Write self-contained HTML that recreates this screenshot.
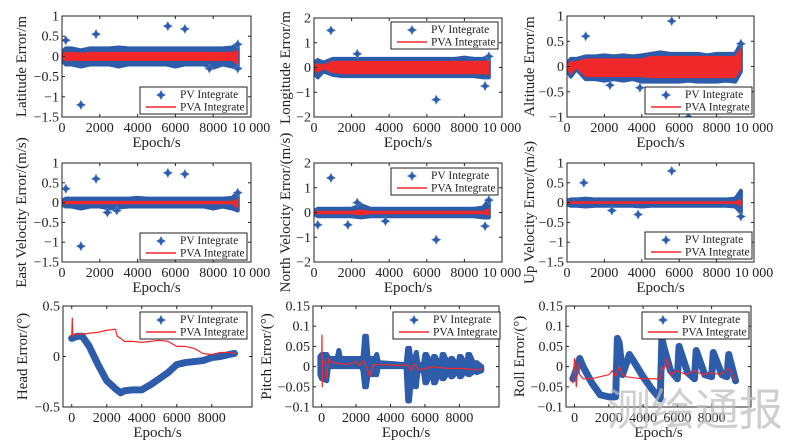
<!DOCTYPE html>
<html><head><meta charset="utf-8"><style>
html,body{margin:0;padding:0;background:#fff;}
svg{display:block;font-family:"Liberation Serif",serif;}
</style></head><body>
<svg id="c" width="791" height="448" viewBox="0 0 791 448"></svg>
<script>
// ---------- data ----------
const epochsA = [0,200,500,1000,1500,2000,2500,3000,3500,4000,4500,5000,5500,6000,6500,7000,7500,8000,8500,9000,9300];
const latPvUp  = [0.1,0.2,0.2,0.15,0.2,0.2,0.2,0.22,0.2,0.2,0.2,0.2,0.2,0.2,0.2,0.2,0.2,0.2,0.2,0.22,0.3];
const latPvLo  = [-0.1,-0.2,-0.2,-0.25,-0.2,-0.2,-0.2,-0.25,-0.2,-0.2,-0.2,-0.2,-0.2,-0.25,-0.2,-0.2,-0.2,-0.28,-0.2,-0.25,-0.3];
const latPvaUp = [0.05,0.1,0.1,0.08,0.1,0.1,0.1,0.1,0.1,0.1,0.1,0.1,0.1,0.1,0.1,0.1,0.1,0.1,0.1,0.1,0.15];
const latPvaLo = [-0.05,-0.1,-0.1,-0.1,-0.1,-0.1,-0.1,-0.1,-0.1,-0.1,-0.1,-0.1,-0.1,-0.1,-0.1,-0.1,-0.1,-0.1,-0.1,-0.1,-0.2];
const latOutX = [200,1000,1800,5600,6500,7800,9300,9300];
const latOutY = [0.4,-1.2,0.55,0.75,0.68,-0.3,0.3,-0.3];

const lonPvUp  = [0.2,0.3,0.2,0.35,0.35,0.35,0.35,0.35,0.35,0.35,0.35,0.35,0.35,0.35,0.35,0.35,0.35,0.4,0.35,0.35,0.45];
const lonPvLo  = [-0.2,-0.4,-0.15,-0.3,-0.35,-0.35,-0.35,-0.35,-0.35,-0.35,-0.35,-0.35,-0.35,-0.35,-0.35,-0.35,-0.35,-0.35,-0.35,-0.4,-0.4];
const lonPvaUp = [0.1,0.15,0.1,0.25,0.25,0.25,0.25,0.25,0.25,0.25,0.25,0.25,0.25,0.25,0.25,0.25,0.25,0.25,0.25,0.25,0.3];
const lonPvaLo = [-0.1,-0.2,-0.05,-0.2,-0.25,-0.25,-0.25,-0.25,-0.25,-0.25,-0.25,-0.25,-0.25,-0.25,-0.25,-0.25,-0.25,-0.25,-0.25,-0.25,-0.3];
const lonOutX = [900,2300,6500,9100,9300];
const lonOutY = [1.5,0.55,-1.3,-0.75,0.45];

const altPvUp  = [0.05,0.15,0.15,0.2,0.2,0.22,0.2,0.22,0.2,0.22,0.25,0.28,0.25,0.25,0.25,0.25,0.22,0.25,0.25,0.25,0.45];
const altPvLo  = [-0.05,-0.2,-0.05,-0.25,-0.25,-0.28,-0.25,-0.28,-0.25,-0.3,-0.3,-0.3,-0.3,-0.3,-0.28,-0.3,-0.3,-0.3,-0.28,-0.3,-0.1];
const altPvaUp = [0.03,0.1,0.1,0.15,0.15,0.15,0.15,0.15,0.15,0.15,0.2,0.2,0.2,0.2,0.2,0.2,0.2,0.2,0.2,0.2,0.35];
const altPvaLo = [-0.03,-0.15,-0.03,-0.2,-0.2,-0.2,-0.2,-0.2,-0.2,-0.2,-0.22,-0.22,-0.22,-0.22,-0.22,-0.22,-0.22,-0.22,-0.22,-0.22,-0.05];
const altOutX = [1000,5600,6500,2300,3900,9300];
const altOutY = [0.6,0.9,-1.0,-0.37,-0.42,0.45];

const eastPvUp  = [0.05,0.1,0.1,0.1,0.1,0.1,0.1,0.1,0.1,0.12,0.1,0.1,0.1,0.1,0.1,0.1,0.1,0.1,0.1,0.12,0.25];
const eastPvLo  = [-0.05,-0.1,-0.1,-0.15,-0.1,-0.1,-0.15,-0.12,-0.1,-0.1,-0.1,-0.1,-0.1,-0.1,-0.1,-0.1,-0.1,-0.15,-0.1,-0.15,-0.2];
const eastPvaUp = [0.01,0.03,0.03,0.03,0.03,0.03,0.03,0.03,0.03,0.03,0.03,0.03,0.03,0.03,0.03,0.03,0.03,0.03,0.03,0.03,0.1];
const eastPvaLo = [-0.01,-0.03,-0.03,-0.03,-0.03,-0.03,-0.03,-0.03,-0.03,-0.03,-0.03,-0.03,-0.03,-0.03,-0.03,-0.03,-0.03,-0.03,-0.03,-0.03,-0.15];
const eastOutX = [200,1000,1800,5600,6500,2400,2900,9300];
const eastOutY = [0.35,-1.1,0.6,0.75,0.72,-0.25,-0.2,0.25];

const northPvUp  = [0.05,0.15,0.15,0.15,0.15,0.15,0.3,0.15,0.15,0.15,0.15,0.15,0.15,0.15,0.15,0.15,0.15,0.15,0.15,0.2,0.5];
const northPvLo  = [-0.05,-0.15,-0.15,-0.15,-0.15,-0.15,-0.2,-0.15,-0.15,-0.15,-0.15,-0.15,-0.15,-0.15,-0.15,-0.15,-0.15,-0.15,-0.15,-0.2,-0.2];
const northPvaUp = [0.02,0.05,0.05,0.05,0.05,0.05,0.1,0.05,0.05,0.05,0.05,0.05,0.05,0.05,0.05,0.05,0.05,0.05,0.05,0.05,0.15];
const northPvaLo = [-0.02,-0.05,-0.05,-0.05,-0.05,-0.05,-0.1,-0.05,-0.05,-0.05,-0.05,-0.05,-0.05,-0.05,-0.05,-0.05,-0.05,-0.05,-0.05,-0.05,-0.1];
const northOutX = [900,200,1800,3800,6500,9100,2300,9300];
const northOutY = [1.4,-0.5,-0.5,-0.35,-1.1,-0.55,0.4,0.5];

const upPvUp  = [0.05,0.08,0.08,0.1,0.08,0.08,0.08,0.08,0.08,0.08,0.08,0.08,0.08,0.08,0.08,0.08,0.08,0.08,0.08,0.1,0.3];
const upPvLo  = [-0.05,-0.08,-0.08,-0.1,-0.08,-0.08,-0.08,-0.08,-0.08,-0.1,-0.08,-0.08,-0.08,-0.08,-0.08,-0.08,-0.08,-0.08,-0.08,-0.1,-0.25];
const upPvaUp = [0.01,0.02,0.02,0.02,0.02,0.02,0.02,0.02,0.02,0.02,0.02,0.02,0.02,0.02,0.02,0.02,0.02,0.02,0.02,0.02,0.08];
const upPvaLo = [-0.01,-0.02,-0.02,-0.02,-0.02,-0.02,-0.02,-0.02,-0.02,-0.02,-0.02,-0.02,-0.02,-0.02,-0.02,-0.02,-0.02,-0.02,-0.02,-0.02,-0.08];
const upOutX = [900,5600,3800,2400,9300];
const upOutY = [0.5,0.8,-0.3,-0.2,-0.35];

const headPvX = [0,300,600,1000,1500,2000,2500,2800,3000,3500,4000,4500,5000,5500,6000,6500,7000,7500,8000,8500,9000,9300];
const headPvY = [0.18,0.2,0.2,0.1,-0.08,-0.24,-0.32,-0.36,-0.34,-0.33,-0.33,-0.28,-0.22,-0.16,-0.08,-0.06,-0.05,-0.04,-0.01,0.0,0.02,0.03];
const headPvaX = [0,30,60,120,500,1000,1500,2000,2500,2600,2800,3000,3500,4000,4500,5000,5500,6000,6500,7000,7500,8000,8500,9000,9300];
const headPvaY = [0.2,0.38,0.2,0.22,0.22,0.23,0.24,0.26,0.27,0.2,0.18,0.15,0.15,0.14,0.15,0.16,0.15,0.1,0.1,0.08,0.03,0.02,0.04,0.04,0.03];

const pitchX  = [-100,0,300,400,900,1000,1100,2300,2400,2500,2600,2700,3100,3200,3300,4900,5000,5100,5200,5300,5400,5500,5600,5900,6000,6100,6400,6500,6600,6900,7000,7100,7400,7500,7600,7900,8000,8100,8400,8500,8600,8900,9000,9300];
const pitchUp = [0.025,0.03,0.03,0.02,0.02,0.04,0.02,0.02,0.02,0.075,0.075,0.02,0.02,0.03,0.01,0.005,0.045,0.045,0.01,0.01,0.02,0.035,0.005,0.005,0.03,0.03,0.0,0.025,0.025,0.0,0.03,0.03,0.0,0.02,0.02,0.0,0.025,0.025,0.0,0.03,0.03,0.0,0.01,0.0];
const pitchLo = [-0.02,-0.03,-0.035,0.0,0.0,0.0,0.0,0.0,-0.01,-0.05,-0.05,-0.02,-0.02,-0.02,0.0,0.0,-0.085,-0.085,-0.04,-0.05,-0.03,-0.05,-0.01,-0.01,-0.04,-0.04,-0.01,-0.04,-0.04,-0.01,-0.03,-0.03,-0.01,-0.025,-0.025,-0.01,-0.025,-0.025,-0.01,-0.02,-0.02,-0.01,-0.015,-0.01];
const pitchPvaX = [0,20,40,60,200,300,400,600,1000,1500,2000,2200,2400,2700,2800,3000,3500,4000,4500,5000,5200,5400,5600,6000,6500,7000,7500,8000,8500,9000,9300];
const pitchPvaY = [0.0,0.078,-0.05,0.015,0.01,-0.03,0.02,0.01,0.008,0.005,0.012,0.002,0.015,-0.01,-0.025,0.005,0.005,0.004,0.003,0.004,-0.01,0.008,-0.008,-0.005,0.0,-0.003,-0.005,-0.004,-0.006,-0.008,-0.006];

const rollPvX = [-100,0,300,500,1000,1500,2000,2400,2500,2600,2800,3200,3500,4000,4500,5000,5100,5200,5600,6000,6100,6600,7000,7100,7600,8000,8100,8600,8900,9000,9400];
const rollPvY = [-0.03,-0.02,0.02,0.0,-0.04,-0.07,-0.075,-0.075,0.07,0.06,-0.02,0.03,0.01,-0.025,-0.055,-0.08,0.07,0.05,-0.01,-0.03,0.05,-0.015,-0.03,0.04,-0.02,-0.025,0.035,-0.02,-0.025,0.03,-0.035];
const rollPvaX = [-100,0,100,200,300,500,1000,1500,2000,2200,2400,2600,2800,3000,3500,4000,4500,5000,5100,5200,5400,5600,6000,6500,7000,7500,8000,8500,9000,9400];
const rollPvaY = [-0.04,0.02,-0.05,0.01,-0.02,-0.03,-0.03,-0.025,-0.02,-0.01,-0.025,0.0,-0.02,-0.025,-0.028,-0.03,-0.03,-0.03,0.0,-0.01,0.02,-0.02,-0.01,-0.02,-0.01,-0.02,-0.015,-0.02,-0.005,-0.035];

// ---------- rendering ----------
const NS='http://www.w3.org/2000/svg';
const svg=document.getElementById('c');
function mk(tag,attrs,parent){const e=document.createElementNS(NS,tag);for(const k in attrs)e.setAttribute(k,attrs[k]);(parent||svg).appendChild(e);return e;}
const BLUE='#2c5caa', RED='#f0282a';

function panel(cfg){
  const g=mk('g',{});
  
  
  const sx=v=>cfg.x0+(v-cfg.xmin)/(cfg.xmax-cfg.xmin)*(cfg.x1-cfg.x0);
  const sy=v=>cfg.y1-(v-cfg.ymin)/(cfg.ymax-cfg.ymin)*(cfg.y1-cfg.y0);
  const clip='clip-'+cfg.name;
  const cp=mk('clipPath',{id:clip},g); mk('rect',{x:cfg.x0,y:cfg.y0,width:cfg.x1-cfg.x0,height:cfg.y1-cfg.y0},cp);
  const pg=mk('g',{'clip-path':'url(#'+clip+')'},g);
  return {g,pg,sx,sy};
}
function band(p,xs,up,lo,color,sw,name){
  let pts=xs.map((x,i)=>p.sx(x)+','+p.sy(up[i]));
  for(let i=xs.length-1;i>=0;i--)pts.push(p.sx(xs[i])+','+p.sy(lo[i]));
  const e=mk('polygon',{points:pts.join(' '),fill:color,stroke:color,'stroke-width':sw,'stroke-linejoin':'round'},p.pg);
  
  
}
function line(p,xs,ys,color,sw,name){
  const e=mk('polyline',{points:xs.map((x,i)=>p.sx(x)+','+p.sy(ys[i])).join(' '),fill:'none',stroke:color,'stroke-width':sw,'stroke-linejoin':'round','stroke-linecap':'round'},p.pg);
  
  
}
function star(parent,cx,cy,r){
  return mk('path',{d:`M${cx} ${cy-r}L${cx+r*0.35} ${cy-r*0.35}L${cx+r} ${cy}L${cx+r*0.35} ${cy+r*0.35}L${cx} ${cy+r}L${cx-r*0.35} ${cy+r*0.35}L${cx-r} ${cy}L${cx-r*0.35} ${cy-r*0.35}Z`,fill:BLUE,stroke:'#5b86c8','stroke-width':0.6},parent);
}
function outliers(p,xs,ys){
  xs.forEach((x,i)=>{const s=star(p.pg,p.sx(x),p.sy(ys[i]),4.5);
    
    });
}
function axes(p,cfg){
  const g=p.g;
  const fr=mk('rect',{x:cfg.x0,y:cfg.y0,width:cfg.x1-cfg.x0,height:cfg.y1-cfg.y0,fill:'none',stroke:'#222','stroke-width':1},g);
  
  
  cfg.yticks.forEach((v,i)=>{const y=p.sy(v);
    mk('line',{x1:cfg.x0,x2:cfg.x0+3,y1:y,y2:y,stroke:'#222'},g);
    mk('line',{x1:cfg.x1,x2:cfg.x1-3,y1:y,y2:y,stroke:'#222'},g);
    const t=mk('text',{x:cfg.x0-3,y:y+4.5,'text-anchor':'end','font-size':14,fill:'#222'},g);
    t.textContent=cfg.ylabels[i];
    
    });
  cfg.xticks.forEach((v,i)=>{const x=p.sx(v);
    mk('line',{x1:x,x2:x,y1:cfg.y1,y2:cfg.y1-3,stroke:'#222'},g);
    mk('line',{x1:x,x2:x,y1:cfg.y0,y2:cfg.y0+3,stroke:'#222'},g);
    const t=mk('text',{x:x,y:cfg.y1+15,'text-anchor':'middle','font-size':14,fill:'#222'},g);
    t.textContent=cfg.xlabels[i];
    
    });
  const xt=mk('text',{x:(cfg.x0+cfg.x1)/2,y:cfg.y1+30,'text-anchor':'middle','font-size':15,fill:'#222'},g);
  xt.textContent='Epoch/s';
  
  
  const cy=(cfg.y0+cfg.y1)/2, lx=cfg.x0-cfg.ylabOff;
  const yt=mk('text',{x:lx,y:cy,'text-anchor':'middle','font-size':15,fill:'#222',transform:`rotate(-90 ${lx} ${cy})`},g);
  yt.textContent=cfg.ylabel;
  
  
  // legend
  const L=cfg.leg, lg=mk('g',{},g);
  
  
  mk('rect',{x:L[0],y:L[1],width:107,height:27,fill:'#fff',stroke:'#222','stroke-width':1},lg);
  star(lg,L[0]+21,L[1]+8,4.5);
  const t1=mk('text',{x:L[0]+40,y:L[1]+11,'font-size':11.5,fill:'#222'},lg); t1.textContent='PV Integrate';
  
  
  mk('line',{x1:L[0]+6,x2:L[0]+36,y1:L[1]+20,y2:L[1]+20,stroke:RED,'stroke-width':1.5},lg);
  const t2=mk('text',{x:L[0]+40,y:L[1]+23.5,'font-size':11.5,fill:'#222'},lg); t2.textContent='PVA Integrate';
  
  
}

const X1=[0,2000,4000,6000,8000,10000], X1L=['0','2000','4000','6000','8000','10 000'];
const X3=[0,2000,4000,6000,8000], X3L=['0','2000','4000','6000','8000'];
const Y15=[-1.5,-1,-0.5,0,0.5,1], Y15L=['\u22121.5','\u22121','\u22120.5','0','0.5','1'];
const Y2=[-2,-1,0,1,2], Y2L=['\u22122','\u22121','0','1','2'];
const Y1=[-1,-0.5,0,0.5,1], Y1L=['\u22121','\u22120.5','0','0.5','1'];
const YA=[-0.1,-0.05,0,0.05,0.1,0.15], YAL=['\u22120.1','\u22120.05','0','0.05','0.1','0.15'];

function noisyPanel(cfg,xs,pu,pl,ru,rl,ox,oy){
  const p=panel(cfg);
  band(p,xs,pu,pl,BLUE,4,'pv-band');
  band(p,xs,ru,rl,RED,1,'pva-band');
  outliers(p,ox,oy);
  axes(p,cfg);
}
const top1={y0:16,y1:117}, top2={y0:163,y1:262}, top3={y0:306,y1:407};
const c1={x0:62,x1:251}, c2={x0:314,x1:502}, c3={x0:567,x1:754};

noisyPanel({name:'latitude-panel',...c1,...top1,xmin:0,xmax:10000,ymin:-1.5,ymax:1,xticks:X1,xlabels:X1L,yticks:Y15,ylabels:Y15L,ylabel:'Latitude Error/m',ylabOff:36,leg:[140,87]},epochsA,latPvUp,latPvLo,latPvaUp,latPvaLo,latOutX,latOutY);
noisyPanel({name:'longitude-panel',...c2,...top1,y0:18,xmin:0,xmax:10000,ymin:-2,ymax:2,xticks:X1,xlabels:X1L,yticks:Y2,ylabels:Y2L,ylabel:'Longitude Error/m',ylabOff:24,leg:[391,22]},epochsA,lonPvUp,lonPvLo,lonPvaUp,lonPvaLo,lonOutX,lonOutY);
noisyPanel({name:'altitude-panel',...c3,...top1,xmin:0,xmax:10000,ymin:-1,ymax:1,xticks:X1,xlabels:X1L,yticks:Y1,ylabels:Y1L,ylabel:'Altitude Error/m',ylabOff:33,leg:[645,87]},epochsA,altPvUp,altPvLo,altPvaUp,altPvaLo,altOutX,altOutY);
noisyPanel({name:'east-velocity-panel',...c1,...top2,xmin:0,xmax:10000,ymin:-1.5,ymax:1,xticks:X1,xlabels:X1L,yticks:Y15,ylabels:Y15L,ylabel:'East Velocity Error/(m/s)',ylabOff:36,leg:[140,233]},epochsA,eastPvUp,eastPvLo,eastPvaUp,eastPvaLo,eastOutX,eastOutY);
noisyPanel({name:'north-velocity-panel',...c2,...top2,xmin:0,xmax:10000,ymin:-2,ymax:2,xticks:X1,xlabels:X1L,yticks:Y2,ylabels:Y2L,ylabel:'North Velocity Error/(m/s)',ylabOff:24,leg:[391,168]},epochsA,northPvUp,northPvLo,northPvaUp,northPvaLo,northOutX,northOutY);
noisyPanel({name:'up-velocity-panel',...c3,...top2,xmin:0,xmax:10000,ymin:-1.5,ymax:1,xticks:X1,xlabels:X1L,yticks:Y15,ylabels:Y15L,ylabel:'Up Velocity Error/(m/s)',ylabOff:33,leg:[645,232]},epochsA,upPvUp,upPvLo,upPvaUp,upPvaLo,upOutX,upOutY);

(function(){
  const cfg={name:'head-panel',x0:63,x1:252,...top3,xmin:-500,xmax:10300,ymin:-0.5,ymax:0.5,xticks:X3,xlabels:X3L,yticks:[-0.5,0,0.5],ylabels:['\u22120.5','0','0.5'],ylabel:'Head Error/(\u00b0)',ylabOff:36,leg:[140,312]};
  const p=panel(cfg);
  line(p,headPvX,headPvY,BLUE,7,'pv-line');
  line(p,headPvaX,headPvaY,RED,1.2,'pva-line');
  axes(p,cfg);
})();
(function(){
  const cfg={name:'pitch-panel',x0:313,x1:499,...top3,xmin:-500,xmax:10300,ymin:-0.1,ymax:0.15,xticks:X3,xlabels:X3L,yticks:YA,ylabels:YAL,ylabel:'Pitch Error/(\u00b0)',ylabOff:42,leg:[393,312]};
  const p=panel(cfg);
  band(p,pitchX,pitchUp,pitchLo,BLUE,5,'pv-band');
  line(p,pitchPvaX,pitchPvaY,RED,1.2,'pva-line');
  axes(p,cfg);
})();
(function(){
  const cfg={name:'roll-panel',x0:566,x1:751,...top3,xmin:-500,xmax:10300,ymin:-0.1,ymax:0.15,xticks:X3,xlabels:X3L,yticks:YA,ylabels:YAL,ylabel:'Roll Error/(\u00b0)',ylabOff:42,leg:[642,312]};
  const p=panel(cfg);
  line(p,rollPvX,rollPvY,BLUE,7,'pv-line');
  line(p,rollPvaX,rollPvaY,RED,1.2,'pva-line');
  axes(p,cfg);
})();
const wm=mk('text',{x:695,y:425,'text-anchor':'middle','font-size':44,fill:'#bbb','fill-opacity':0.7,'font-family':'"Liberation Sans","Noto Sans CJK SC",sans-serif'});
wm.textContent='测绘通报';


</script>
</body></html>
